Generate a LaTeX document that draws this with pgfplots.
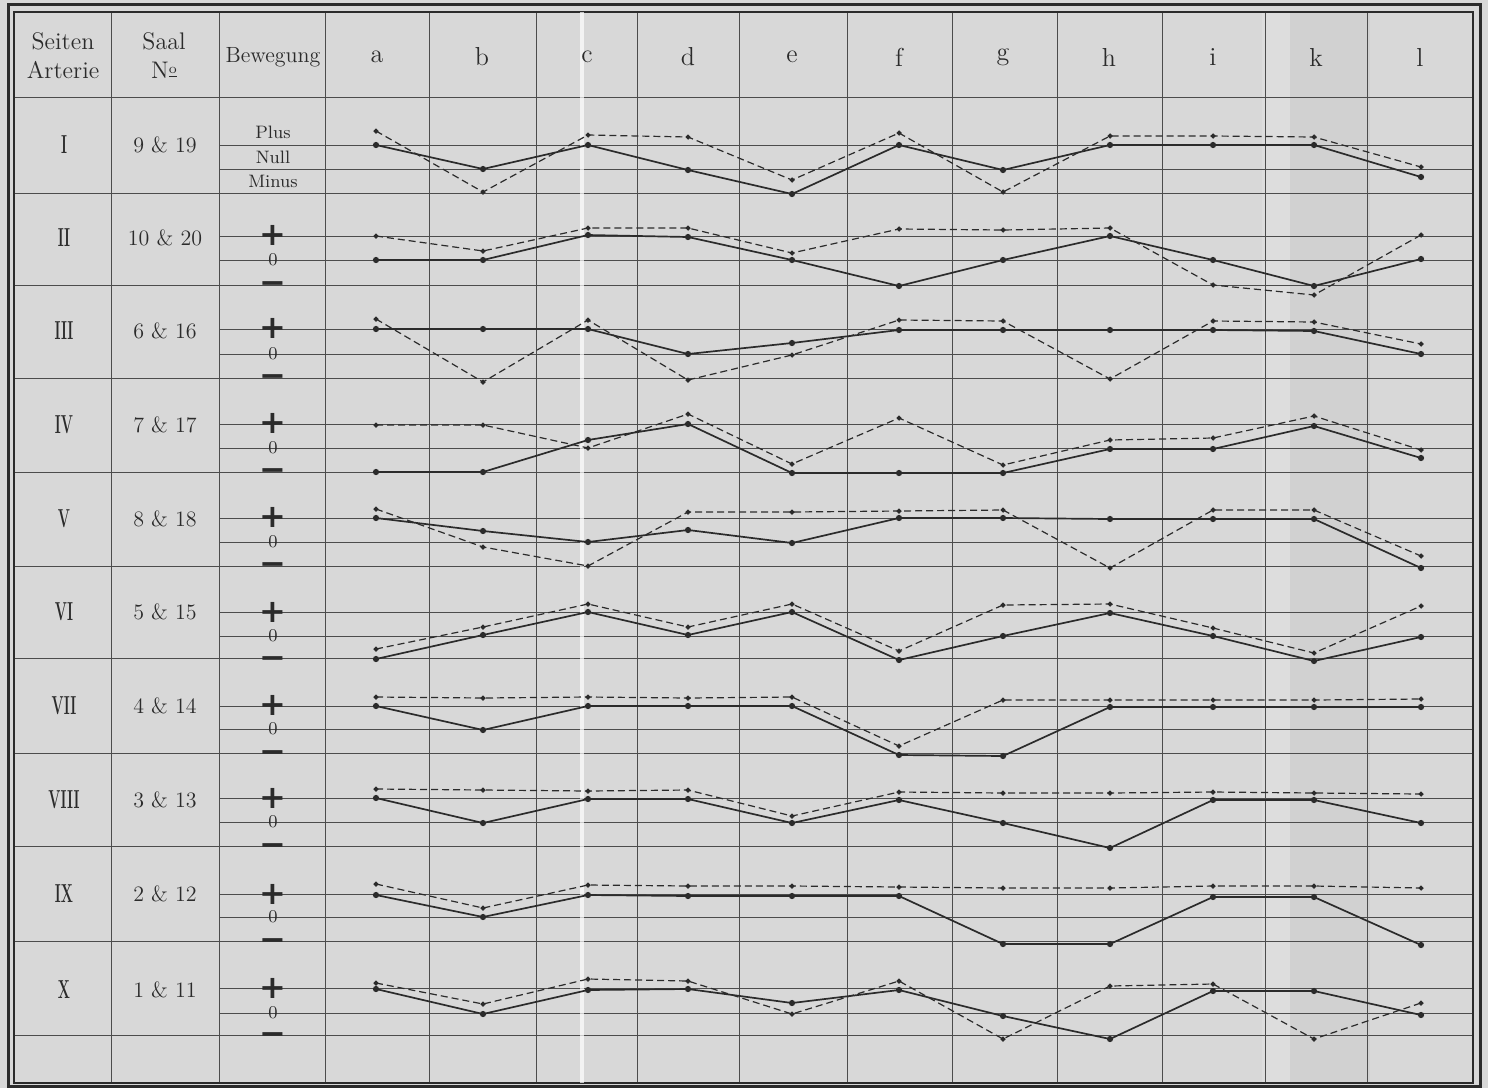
\documentclass[border=0pt]{standalone}
\usepackage{pgfplots}
\pgfplotsset{compat=1.18}
\usepackage{pgfplotstable}
\usepackage{graphicx}
\usepackage{fontspec}
\newfontfamily\signfont{DejaVu Sans}
\definecolor{paper}{HTML}{D8D8D8}
\definecolor{paperdark}{HTML}{D1D1D1}
\definecolor{paperlight}{HTML}{DDDDDD}
\definecolor{ink}{HTML}{2B2B2B}
\definecolor{rulegray}{HTML}{4C4C4C}

% column centre (px), then solid / dashed level (px) per row I..X
\pgfplotstableread{
col  s1  d1  s2  d2  s3  d3  s4  d4  s5  d5  s6  d6  s7  d7  s8  d8  s9  d9  s10  d10
376  145 131 260 236 329 319 472 425 518 509 659 649 706 697 798 789 895 884 989  983
483  169 192 260 251 329 382 472 425 531 547 635 627 730 698 823 790 917 908 1014 1004
588  145 135 235 228 329 320 440 448 542 566 612 604 706 697 799 791 895 885 990  979
688  170 137 237 228 354 380 424 414 530 512 635 627 706 698 799 790 896 886 989  981
792  194 180 260 253 343 355 473 464 543 512 612 604 706 697 823 816 896 886 1003 1014
899  145 133 286 229 330 320 473 418 518 511 660 651 755 746 800 792 896 887 990  981
1003 170 192 260 230 330 321 473 465 518 510 636 605 756 700 823 793 944 888 1016 1039
1110 145 136 236 228 330 379 449 440 519 568 613 604 707 700 848 793 944 888 1039 986
1213 145 136 260 285 330 321 449 438 519 510 636 628 707 700 800 792 897 886 991  984
1314 145 137 286 295 331 322 426 416 519 510 661 653 707 700 800 793 897 886 991  1039
1421 177 167 259 235 354 344 458 450 568 556 637 606 707 699 823 794 945 888 1015 1003
}\pulse

\tikzset{
  tHd/.style={inner sep=0pt, text=ink, font=\fontsize{12}{14}\selectfont},
  tBew/.style={inner sep=0pt, text=ink, font=\fontsize{11}{13}\selectfont},
  tSaal/.style={inner sep=0pt, text=ink, font=\fontsize{11}{13}\selectfont},
  tNum/.style={inner sep=0pt, text=ink, font=\fontsize{13}{14}\selectfont\bfseries},
  tLet/.style={inner sep=0pt, text=ink, font=\fontsize{13}{14}\selectfont},
  tSmall/.style={inner sep=0pt, text=ink, font=\fontsize{9}{10}\selectfont},
  tSym/.style={inner sep=0pt, text=ink, anchor=base, yshift=-5pt, font=\fontsize{16}{17}\signfont\bfseries},
  tZero/.style={inner sep=0pt, text=ink, font=\fontsize{9}{10}\selectfont},
  px/.style={x=0.5pt, y=-0.5pt, shift={(0pt,544pt)}},
}

\newcommand{\rowlab}[3]{%
  \node[tNum] at (64,#1) {\scalebox{0.55}[1]{#2}};
  \node[tSaal] at (165,#1) {#3};}
\newcommand{\signs}[3]{%
  \node[tSym] at (273,#1) {+};
  \node[tZero] at (273,#2) {0};
  \node[tSym] at (273,#3) {−};}

\begin{document}
\begin{tikzpicture}
% paper and table ruling (pixel units of the sheet)
\begin{scope}[px]
\fill[paper] (0,0) rectangle (1488,1088);
\fill[paperlight] (1262,12) rectangle (1290,1083);
\fill[paperdark] (1290,12) rectangle (1370,1083);
\foreach \x in {111,219,325,429,536,637,739,847,952,1057,1162,1265,1367}
  \draw[rulegray, line width=0.45pt] (\x,12) -- (\x,1083);
\foreach \y in {97,193,285,378,472,566,658,753,846,941,1035}
  \draw[rulegray, line width=0.45pt] (14,\y) -- (1473,\y);
\foreach \y in {145,169,236,260,329,354,424,448,518,542,612,636,706,729,798,822,894,917,988,1013}
  \draw[rulegray, line width=0.4pt] (219,\y) -- (1473,\y);
\draw[ink, line width=0.6pt] (14,12) rectangle (1473,1083);
\draw[ink, line width=1.5pt] (8,5) rectangle (1480,1086);
\draw[white, opacity=0.7, line width=1.6pt] (582,12) -- (582,1083);
\end{scope}

\begin{axis}[
  width=744pt, height=544pt, scale only axis,
  at={(0pt,0pt)}, anchor=south west,
  xmin=0, xmax=1488, ymin=0, ymax=1088, y dir=reverse,
  axis line style={draw=none}, xtick=\empty, ytick=\empty,
  clip=false,
  solidline/.style={ink, line width=0.85pt, mark=*, mark size=1.1pt, mark options={solid}},
  dashline/.style={ink, line width=0.6pt, dash pattern=on 3.5pt off 2pt, mark=*, mark size=0.95pt, mark options={solid}},
]
\pgfplotsinvokeforeach{1,...,10}{
  \addplot[solidline] table[x=col, y=s#1] {\pulse};
  \addplot[dashline] table[x=col, y=d#1] {\pulse};
}
\end{axis}

% texts
\begin{scope}[px]
\node[tHd] at (63,41) {Seiten};
\node[tHd] at (63,70) {Arterie};
\node[tHd] at (164,41) {Saal};
\node[tHd] at (164,70) {N\raisebox{0.45ex}{\scriptsize\underline{o}}};
\node[tBew] at (273,57) {Bewegung};
\node[tLet] at (377,57) {a};
\node[tLet] at (482,57) {b};
\node[tLet] at (587,57) {c};
\node[tLet] at (688,57) {d};
\node[tLet] at (792,57) {e};
\node[tLet] at (899,57) {f};
\node[tLet] at (1003,57) {g};
\node[tLet] at (1109,57) {h};
\node[tLet] at (1213,57) {i};
\node[tLet] at (1316,57) {k};
\node[tLet] at (1420,57) {l};
\rowlab{145}{I}{9 \& 19}
\rowlab{238}{II}{10 \& 20}
\rowlab{331}{III}{6 \& 16}
\rowlab{425}{IV}{7 \& 17}
\rowlab{519}{V}{8 \& 18}
\rowlab{612}{VI}{5 \& 15}
\rowlab{706}{VII}{4 \& 14}
\rowlab{800}{VIII}{3 \& 13}
\rowlab{894}{IX}{2 \& 12}
\rowlab{990}{X}{1 \& 11}
\node[tSmall] at (273,132) {Plus};
\node[tSmall] at (273,157) {Null};
\node[tSmall] at (273,181) {Minus};
\signs{236}{260}{284}
\signs{329}{354}{377}
\signs{424}{448}{471}
\signs{518}{542}{565}
\signs{612}{636}{658}
\signs{706}{729}{752}
\signs{798}{822}{845}
\signs{894}{917}{940}
\signs{988}{1013}{1034}
\end{scope}
\end{tikzpicture}
\end{document}
